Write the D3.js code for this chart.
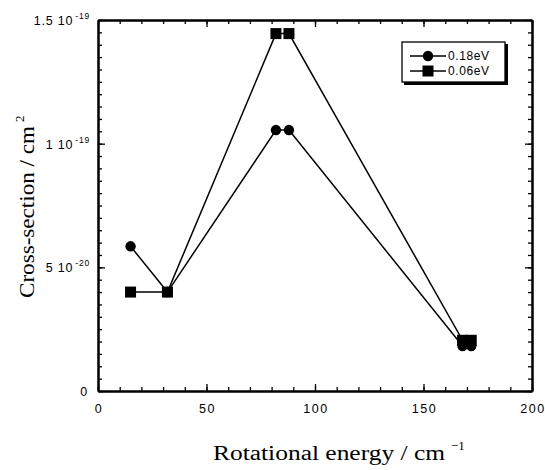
<!DOCTYPE html>
<html>
<head>
<meta charset="utf-8">
<script src="https://cdn.jsdelivr.net/npm/d3@7"></script>
<style>
  body { margin: 0; background: #fff; }
  svg text { fill: #000; }
</style>
</head>
<body>
<svg width="545" height="470"></svg>
<script>
// rotational energy (cm^-1)
var energy = [15, 32, 82, 88, 168, 172];
// cross-sections (cm^2)
var cs018 = [5.85e-20, 4.0e-20, 1.055e-19, 1.055e-19, 1.82e-20, 1.82e-20];
var cs006 = [4.0e-20, 4.0e-20, 1.445e-19, 1.445e-19, 2.05e-20, 2.05e-20];
var seriesNames = ["0.18eV", "0.06eV"];
var xTicks = [0, 50, 100, 150, 200];
var yTicks = [0, 5e-20, 1e-19, 1.5e-19];
var yTickLabels = [["0", ""], ["5 10", "-20"], ["1 10", "-19"], ["1.5 10", "-19"]];

var svg = d3.select("svg");
var pLeft = 98, pRight = 532, pTop = 20, pBottom = 391;

var x = d3.scaleLinear().domain([0, 200]).range([pLeft, pRight]);
var y = d3.scaleLinear().domain([0, 1.5e-19]).range([pBottom, pTop]);

var axes = svg.append("g");

// minor / major ticks, pointing inward on all four sides
function tickSet(step, lo, n) {
  return d3.range(n + 1).map(function(i) { return lo + i * step; });
}
var xMinor = tickSet(10, 0, 20);
var yMinor = tickSet(5e-21, 0, 30);

function ticksAll(vals, size) {
  axes.append("g").attr("transform", "translate(0," + pBottom + ")")
    .call(d3.axisBottom(x).tickValues(vals.x).tickSizeInner(-size).tickSizeOuter(0).tickFormat(""));
  axes.append("g").attr("transform", "translate(0," + pTop + ")")
    .call(d3.axisTop(x).tickValues(vals.x).tickSizeInner(-size).tickSizeOuter(0).tickFormat(""));
  axes.append("g").attr("transform", "translate(" + pLeft + ",0)")
    .call(d3.axisLeft(y).tickValues(vals.y).tickSizeInner(-size).tickSizeOuter(0).tickFormat(""));
  axes.append("g").attr("transform", "translate(" + pRight + ",0)")
    .call(d3.axisRight(y).tickValues(vals.y).tickSizeInner(-size).tickSizeOuter(0).tickFormat(""));
}
ticksAll({ x: xMinor, y: yMinor }, 4);
ticksAll({ x: xTicks, y: yTicks }, 7);

axes.selectAll("path.domain").attr("stroke", "#000").attr("stroke-width", 2);
axes.selectAll(".tick line").attr("stroke", "#000").attr("stroke-width", 1.3);

// tick labels
svg.append("g").selectAll("text").data(xTicks).enter().append("text")
  .attr("x", function(d) { return x(d) + 1; })
  .attr("y", pBottom + 22)
  .attr("text-anchor", "middle")
  .style("font-family", "Liberation Sans, Arial, sans-serif")
  .style("font-size", "12.5px")
  .style("letter-spacing", "1.6px")
  .text(function(d) { return d; });

var yl = svg.append("g").selectAll("text").data(yTicks).enter().append("text")
  .attr("x", function(d, i) { return yTickLabels[i][1] ? pLeft - 8 : pLeft - 10; })
  .attr("y", function(d) { return y(d) + 5; })
  .attr("text-anchor", "end")
  .style("font-family", "Liberation Sans, Arial, sans-serif")
  .style("font-size", "12.5px")
  .style("letter-spacing", "0.8px");
yl.append("tspan").text(function(d, i) { return yTickLabels[i][0]; });
yl.append("tspan").attr("dx", 2).attr("dy", -6).style("font-size", "8.5px")
  .text(function(d, i) { return yTickLabels[i][1]; });

// axis titles
var xt = svg.append("text")
  .attr("x", 213).attr("y", 460)
  .style("font-family", "Liberation Serif, Times New Roman, serif")
  .style("font-size", "20px");
xt.append("tspan").attr("textLength", 232).attr("lengthAdjust", "spacingAndGlyphs")
  .text("Rotational energy / cm");
xt.append("tspan").attr("dx", 6).attr("dy", -10).style("font-size", "13px").text("\u22121");

var ytitle = svg.append("text")
  .attr("transform", "translate(34,298) rotate(-90)")
  .style("font-family", "Liberation Serif, Times New Roman, serif")
  .style("font-size", "20px");
ytitle.append("tspan").attr("textLength", 172).attr("lengthAdjust", "spacingAndGlyphs")
  .text("Cross-section / cm");
ytitle.append("tspan").attr("dx", 4).attr("dy", -10).style("font-size", "13px").text("2");

// series
var data = [cs018, cs006].map(function(vals, k) {
  return vals.map(function(v, i) { return { e: energy[i], v: v, k: k }; });
});

var line = d3.line().x(function(d) { return x(d.e); }).y(function(d) { return y(d.v); });

svg.append("g").selectAll("path").data(data).enter().append("path")
  .attr("d", line)
  .attr("fill", "none")
  .attr("stroke", "#000")
  .attr("stroke-width", 1.5);

function drawMarker(sel, k, cx, cy) {
  if (k === 0) {
    sel.append("circle").attr("cx", cx).attr("cy", cy).attr("r", 5.2).attr("fill", "#000");
  } else {
    sel.append("rect").attr("x", cx - 5.5).attr("y", cy - 5.5)
      .attr("width", 11).attr("height", 11).attr("fill", "#000");
  }
}

var marks = svg.append("g");
data.forEach(function(series) {
  series.forEach(function(d) { drawMarker(marks, d.k, x(d.e), y(d.v)); });
});

// legend
var lg = svg.append("g");
lg.append("rect").attr("x", 404).attr("y", 44).attr("width", 104).attr("height", 41).attr("fill", "#000");
lg.append("rect").attr("x", 402).attr("y", 42).attr("width", 103).attr("height", 40)
  .attr("fill", "#fff").attr("stroke", "#000").attr("stroke-width", 1.3);
seriesNames.forEach(function(name, k) {
  var ly = 56 + k * 15;
  lg.append("line").attr("x1", 410).attr("x2", 446).attr("y1", ly).attr("y2", ly)
    .attr("stroke", "#000").attr("stroke-width", 1.5);
  drawMarker(lg, k, 428, ly);
  lg.append("text").attr("x", 448).attr("y", ly + 4)
    .style("font-family", "Liberation Sans, Arial, sans-serif")
    .style("font-size", "12px")
    .style("letter-spacing", "0.6px")
    .text(name);
});
</script>
</body>
</html>
